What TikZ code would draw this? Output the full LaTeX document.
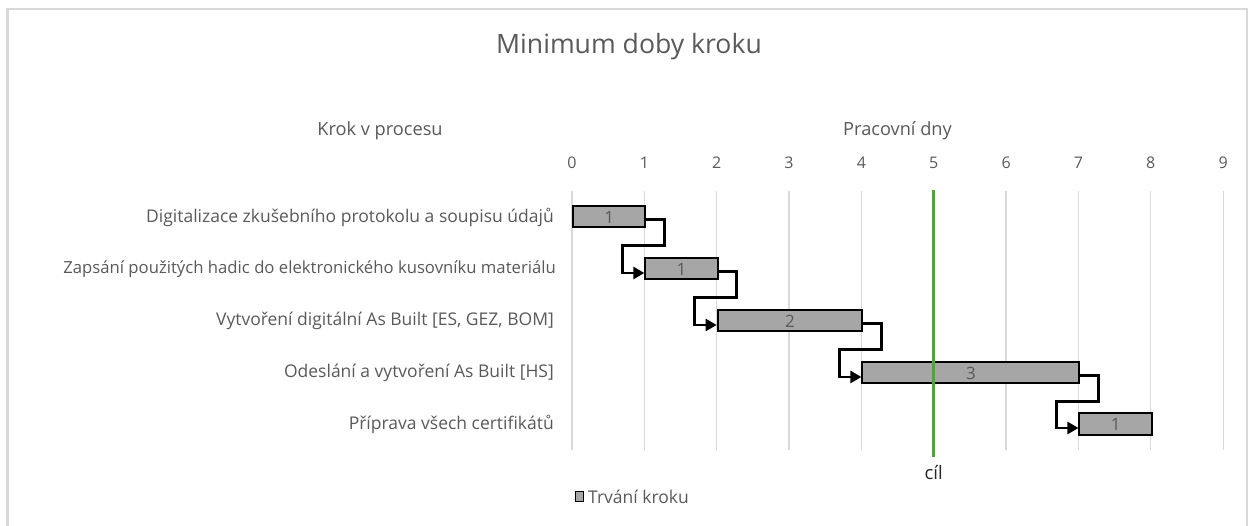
\documentclass[tikz,border=0pt]{standalone}
\usepackage{fontspec}
\setmainfont{Open Sans}
\usetikzlibrary{arrows.meta}
\definecolor{txt}{HTML}{595959}
\definecolor{gridc}{HTML}{D9D9D9}
\definecolor{framec}{HTML}{D9D9D9}
\definecolor{barfill}{HTML}{A6A6A6}
\definecolor{goalc}{HTML}{4EA72E}
\newcommand{\dx}{72.35}
\begin{document}
\begin{tikzpicture}[x=1pt,y=-1pt,
  catlabel/.style={anchor=east,text=txt,font=\fontsize{17.5}{19}\selectfont,inner sep=0pt},
  ticklabel/.style={text=txt,font=\fontsize{16}{18}\selectfont,inner sep=0pt},
  axistitle/.style={text=txt,font=\fontsize{18.2}{20}\selectfont,inner sep=0pt},
  stepbar/.style={draw=black,line width=2pt,fill=barfill,anchor=west,minimum height=21pt,
    inner sep=0pt,text=txt,font=\fontsize{17}{18}\selectfont},
  gridline/.style={draw=gridc,line width=1.3pt},
  conn/.style={draw=black,line width=2.6pt,-{Triangle[length=11pt,width=12pt]}}]
\useasboundingbox (0,0) rectangle (1253,526);
% chart frame
\draw[framec,line width=2.5pt] (7.5,540) -- (7.5,9) -- (1247,9) -- (1247,540);
% title
\node[text=txt,font=\fontsize{26.6}{30}\selectfont,inner sep=0pt] (title) at (629,47) {Minimum doby kroku};
% axis titles
\node[axistitle] (ytitle) at (380,131) {Krok v procesu};
\node[axistitle] (xtitle) at (897.5,131) {Pracovní dny};
% vertical grid and day labels
\foreach \k in {0,...,9}{
  \draw[gridline] ({572+\dx*\k},191) -- ({572+\dx*\k},450);
  \node[ticklabel] (t\k) at ({572+\dx*\k},163) {\k};
}
% category labels
\node[catlabel] (c1) at (554,217) {Digitalizace zkušebního protokolu a soupisu údajů};
\node[catlabel,font=\fontsize{16.7}{19}\selectfont] (c2) at (556,269) {Zapsání použitých hadic do elektronického kusovníku materiálu};
\node[catlabel] (c3) at (554,321) {Vytvoření digitální As Built [ES, GEZ, BOM]};
\node[catlabel] (c4) at (554,373) {Odeslání a vytvoření As Built [HS]};
\node[catlabel] (c5) at (554,424) {Příprava všech certifikátů};
% bars: start day, duration
\node[stepbar,minimum width={\dx*1}] (b1) at ({572+\dx*0},217) {1};
\node[stepbar,minimum width={\dx*1}] (b2) at ({572+\dx*1},269) {1};
\node[stepbar,minimum width={\dx*2}] (b3) at ({572+\dx*2},321) {2};
\node[stepbar,minimum width={\dx*3}] (b4) at ({572+\dx*4},373) {3};
\node[stepbar,minimum width={\dx*1}] (b5) at ({572+\dx*7},424) {1};
% target line
\coordinate (gtop) at ({572+\dx*5},190);
\coordinate (gbot) at ({572+\dx*5},457);
\draw[goalc,line width=2.6pt] (gtop) -- (gbot);
\node[text=black!85,font=\fontsize{18.5}{20}\selectfont,inner sep=0pt] (goal) at ({572+\dx*5},473) {cíl};
% dependency connectors
\foreach \a/\b in {b1/b2,b2/b3,b3/b4,b4/b5}{
  \draw[conn] ([yshift=-2.5pt]\a.east) -- ++(18,0) -- ++(0,26)
     -| ([xshift=-22pt,yshift=-4pt]\b.west) -- ([yshift=-4pt]\b.west);
}
% legend
\node[draw=black,line width=1.6pt,fill=barfill,minimum width=8pt,minimum height=10pt,inner sep=0pt] (lkey) at (579.5,496.5) {};
\node[anchor=west,text=txt,font=\fontsize{17.5}{19}\selectfont,inner sep=0pt] (ltext) at (588,497) {Trvání kroku};
\end{tikzpicture}
\end{document}
